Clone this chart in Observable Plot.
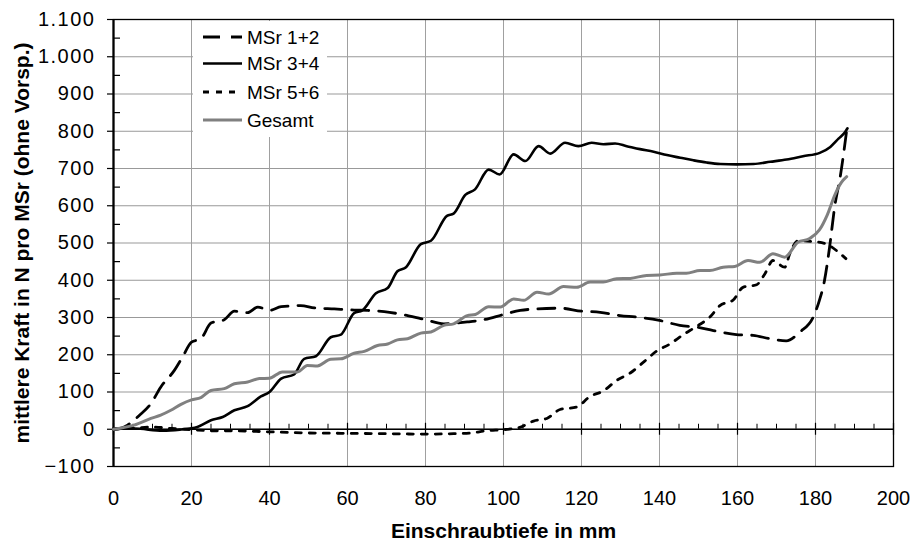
<!DOCTYPE html>
<html><head><meta charset="utf-8">
<script src="https://cdn.jsdelivr.net/npm/d3@7"></script>
<script src="https://cdn.jsdelivr.net/npm/@observablehq/plot@0.6"></script>
<style>
body{margin:0;background:#fff;}
#wrap{position:relative;width:916px;height:543px;font-family:"Liberation Sans",Arial,sans-serif;}
#legend{position:absolute;left:193px;top:21px;background:#fff;}
g[aria-label="y-axis tick label"] text{letter-spacing:1.5px}
</style></head><body><div id="wrap"></div>
<script>
// MSr 1+2 (dashed)
const s12X = [0, 2, 3.6, 6.6, 9.6, 12.1, 15.6, 17.7, 20, 22.4, 25, 28.4, 31, 34.4, 37, 40, 43, 48, 51.5, 56.6, 61.7, 65, 69.4, 75.4, 80, 84.7, 90.7, 94.9, 100, 104.3, 108.6, 114.5, 120, 124.8, 129.9, 134.2, 140, 145.2, 149.5, 153.8, 159.7, 164, 168.3, 172.5, 176, 179.4, 181, 182.3, 183.6, 184.9, 186.4, 188.1];
const s12Y = [0, 3, 11, 37, 69, 113, 158, 194, 234, 243, 285, 294, 317, 313, 328, 319, 329, 332, 326, 323, 320, 319, 316, 305, 294, 283, 288, 294, 308, 319, 323, 325, 317, 314, 305, 301, 292, 279, 274, 265, 254, 252, 243, 237, 261, 301, 346, 399, 488, 596, 682, 811];
// MSr 3+4 (solid)
const s34X = [0, 5.3, 12.6, 17, 21.5, 25, 28, 31, 34.4, 37.8, 40, 43, 46.3, 48.9, 51.9, 55.7, 58.3, 61.7, 63.8, 67.3, 70.3, 72.8, 75, 78.8, 81.4, 85.5, 87.2, 90.2, 92.7, 96.2, 99, 102.6, 105.6, 109, 112, 115.8, 119.2, 122.6, 125.6, 128.6, 131.6, 135, 138.5, 141.9, 145.3, 148.7, 152.1, 155.6, 159.8, 164.1, 168.4, 172.6, 176.8, 181.1, 183.8, 185.9, 187.6, 188.2];
const s34Y = [2, 2, -4, -1, 6, 24, 33, 51, 62, 88, 100, 136, 147, 189, 196, 247, 254, 312, 319, 365, 379, 424, 435, 497, 506, 573, 579, 629, 644, 697, 684, 738, 720, 760, 740, 769, 760, 769, 765, 767, 760, 752, 745, 736, 729, 722, 716, 712, 711, 712, 718, 724, 733, 742, 758, 780, 798, 808];
// MSr 5+6 (dotted)
const s56X = [0, 5, 10, 15, 20, 25, 30, 40, 50, 60, 70, 80, 87.2, 91.5, 95.8, 100, 103.9, 107.7, 111.1, 114.5, 118.8, 122.2, 125.6, 129, 132.5, 135.9, 139.3, 142.7, 146.1, 149.5, 152.9, 155.5, 158.9, 161.4, 164.9, 167, 169.1, 172.1, 173.4, 175.5, 179.4, 182.8, 186.6, 187.8];
const s56Y = [0, 3, 6, 2, -1, -4, -4, -7, -10, -11, -12, -13, -12, -10, -4, -1, 4, 22, 29, 53, 60, 88, 103, 131, 151, 180, 210, 229, 254, 276, 301, 332, 347, 381, 388, 417, 453, 435, 471, 506, 504, 497, 469, 458];
// Gesamt (grey)
const sgX = [0, 5.3, 9.6, 12.1, 14.7, 17.3, 20, 22.4, 25, 28.4, 31, 34.4, 37.4, 40, 43.3, 47.2, 49.7, 52.3, 55.7, 58.3, 61.7, 64.3, 67.7, 70.3, 72.8, 75.4, 78.8, 81.4, 84.7, 87.2, 90.7, 92.8, 96.2, 99.2, 102.6, 105.2, 108.6, 111.6, 115.4, 118.8, 122.2, 125.6, 129, 132.5, 136.7, 140.1, 144.4, 146.9, 150.4, 152.9, 156.3, 159.3, 162.7, 165.7, 169.1, 172.1, 175.5, 178.5, 181, 183, 185, 186.6, 188];
const sgY = [0, 11, 29, 38, 51, 67, 79, 85, 104, 109, 122, 127, 136, 137, 154, 154, 171, 170, 188, 189, 204, 209, 225, 229, 240, 243, 258, 261, 279, 283, 305, 308, 329, 328, 350, 346, 368, 363, 383, 381, 395, 395, 404, 405, 413, 414, 419, 419, 426, 426, 435, 437, 453, 448, 471, 462, 502, 512, 535, 575, 630, 662, 678];

const seriesNames = ["MSr 1+2", "MSr 3+4", "MSr 5+6", "Gesamt"];
const xTicks = d3.range(0, 201, 20);
const xMinor = d3.range(0, 201, 5).filter(d => d % 20 !== 0);
const yTicks = d3.range(-100, 1101, 100);
const yMinor = d3.range(-50, 1100, 100);
const xTitle = "Einschraubtiefe in mm";
const yTitle = "mittlere Kraft in N pro MSr (ohne Vorsp.)";

const toRows = (xs, ys) => xs.map((x, i) => ({x, y: ys[i]}));
const deFmt = d => d3.format(",")(d).replace(/,/g, ".");
const FONT = '"Liberation Sans", Arial, sans-serif';

const styles = [
  {stroke: "#000", strokeWidth: 2.8, strokeDasharray: "17,10"},
  {stroke: "#000", strokeWidth: 2.6, strokeDasharray: null},
  {stroke: "#000", strokeWidth: 2.8, strokeDasharray: "6,8"},
  {stroke: "#808080", strokeWidth: 3, strokeDasharray: null}
];
const data = [toRows(s12X, s12Y), toRows(s34X, s34Y), toRows(s56X, s56Y), toRows(sgX, sgY)];

const chart = Plot.plot({
  width: 916, height: 543,
  marginLeft: 113, marginRight: 23, marginTop: 19, marginBottom: 77,
  style: {fontFamily: FONT, fontSize: "20px", color: "#000", background: "#fff", overflow: "visible"},
  x: {domain: [0, 200]},
  y: {domain: [-100, 1100]},
  marks: [
    Plot.ruleY(yTicks.filter(d => d > -100 && d < 1100), {stroke: "#999", strokeWidth: 1}),
    Plot.ruleX(xTicks.filter(d => d > 0 && d < 200), {stroke: "#a0a0a0", strokeWidth: 1}),
    Plot.frame({stroke: "#000", strokeWidth: 1.3}),
    Plot.ruleY([0], {stroke: "#000", strokeWidth: 1.5}),
    Plot.ruleX([0], {stroke: "#000", strokeWidth: 2.2}),
    Plot.ruleX(xMinor, {y1: 0, y2: 0, insetTop: -5, stroke: "#000", strokeWidth: 1}),
    Plot.ruleX(xTicks, {y1: 0, y2: 0, insetTop: -6, insetBottom: -6, stroke: "#000", strokeWidth: 1.2}),
    Plot.tickY(yMinor, {insetRight: 773, stroke: "#000", strokeWidth: 1.2}),
    Plot.axisY({ticks: yTicks, tickSize: 6, tickPadding: 12, tickFormat: deFmt, fontSize: 20, label: null, strokeWidth: 1.2}),
    Plot.axisX({ticks: xTicks, tickSize: 0, tickPadding: 24, fontSize: 20, label: null}),
    Plot.text([xTitle], {text: d => d, frameAnchor: "bottom", lineAnchor: "middle", textAnchor: "middle", dy: 65, fontSize: 21, fontWeight: "bold"}),
    Plot.text([yTitle], {text: d => d, frameAnchor: "left", lineAnchor: "middle", textAnchor: "middle", rotate: -90, dx: -91, fontSize: 21, fontWeight: "bold"}),
    Plot.line(data[2], {x: "x", y: "y", curve: "monotone-x", ...styles[2]}),
    Plot.line(data[0], {x: "x", y: "y", curve: "monotone-x", ...styles[0]}),
    Plot.line(data[1], {x: "x", y: "y", curve: "monotone-x", ...styles[1]}),
    Plot.line(data[3], {x: "x", y: "y", curve: "monotone-x", ...styles[3]})
  ]
});

const wrap = document.getElementById("wrap");
wrap.appendChild(chart);

// Legend (inside the plot area, white box)
const ns = "http://www.w3.org/2000/svg";
const leg = document.createElementNS(ns, "svg");
leg.setAttribute("id", "legend");
leg.setAttribute("width", 134);
leg.setAttribute("height", 116);
const rowY = [16, 42.5, 71, 99];
seriesNames.forEach((name, i) => {
  const l = document.createElementNS(ns, "line");
  l.setAttribute("x1", 10); l.setAttribute("x2", 49);
  l.setAttribute("y1", rowY[i]); l.setAttribute("y2", rowY[i]);
  l.setAttribute("stroke", styles[i].stroke);
  l.setAttribute("stroke-width", styles[i].strokeWidth);
  if (styles[i].strokeDasharray) l.setAttribute("stroke-dasharray", i === 0 ? "17,11" : "6,7");
  leg.appendChild(l);
  const t = document.createElementNS(ns, "text");
  t.setAttribute("x", 54); t.setAttribute("y", rowY[i]);
  t.setAttribute("dy", "0.35em");
  t.setAttribute("font-size", 19);
  t.setAttribute("font-family", FONT);
  t.textContent = name;
  leg.appendChild(t);
});
wrap.appendChild(leg);
</script></body></html>
